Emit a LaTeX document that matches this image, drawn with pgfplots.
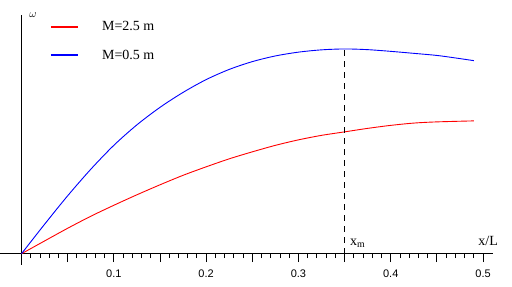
\documentclass[border=0pt]{standalone}
\usepackage{fontspec}
\setmainfont{Liberation Serif}
\newfontfamily\ticksans{Liberation Sans}
\usepackage{pgfplots}
\pgfplotsset{compat=1.18}
\begin{document}
\begin{tikzpicture}
\begin{axis}[
  scale only axis,
  width=493pt, height=250pt,
  xmin=-0.02273, xmax=0.5108,
  ymin=-11, ymax=239,
  axis lines=middle,
  axis line style={-, line width=1pt, black},
  ytick=\empty,
  xtick={0.1,0.2,0.3,0.4,0.5},
  xticklabels={0.1,0.2,0.3,0.4,0.5},
  extra x ticks={0.05,0.15,0.25,0.35,0.45},
  extra x tick labels={},
  minor xtick={0.01,0.02,0.03,0.04,0.06,0.07,0.08,0.09,0.11,0.12,0.13,0.14,0.16,0.17,0.18,0.19,0.21,0.22,0.23,0.24,0.26,0.27,0.28,0.29,0.31,0.32,0.33,0.34,0.36,0.37,0.38,0.39,0.41,0.42,0.43,0.44,0.46,0.47,0.48,0.49},
  tick align=outside,
  major tick length=8.5pt,
  minor tick length=4.5pt,
  tick style={black, line width=0.8pt},
  /pgf/number format/assume math mode=true,
  xticklabel style={font=\ticksans\fontsize{11}{13}\selectfont, anchor=north, yshift=-4.5pt},
  clip=false,
  legend style={draw=none, fill=none, at={(0.0994,0.974)}, anchor=north west,
    inner sep=0pt, row sep=17.3pt, nodes={inner sep=0pt},
    font=\fontsize{14}{16}\selectfont},
  legend image code/.code={\draw[#1, line width=2.5pt] (0pt,0pt) -- (27pt,0pt);},
  legend cell align=left,
  /tikz/every odd column/.append style={column sep=23pt},
]
\addplot[red, line width=0.9pt, smooth] coordinates {
(0,0) (0.025,12.8) (0.05,25.5) (0.075,37.5) (0.1,48.5) (0.125,59) (0.15,69)
(0.175,78.5) (0.2,87) (0.225,95) (0.25,102) (0.275,108.5) (0.3,114) (0.325,118.5)
(0.35,122) (0.375,125.5) (0.4,128.5) (0.425,130.8) (0.45,132) (0.49,133)
};
\addlegendentry{M=2.5 m}
\addplot[blue, line width=0.9pt, smooth] coordinates {
(0,0) (0.025,29.5) (0.05,58) (0.075,84.5) (0.1,108.5) (0.125,129) (0.15,146.5)
(0.175,161.5) (0.2,174.3) (0.225,184.5) (0.25,192.3) (0.275,198) (0.3,201.8)
(0.325,204.1) (0.35,205) (0.375,204.3) (0.4,202.6) (0.425,200.6) (0.45,198.5)
(0.47,196) (0.49,193.3)
};
\addlegendentry{M=0.5 m}
\addplot[black, line width=0.9pt, dash pattern=on 6pt off 5pt, forget plot] coordinates {(0.35,0) (0.35,205)};
\node[anchor=center, font=\fontsize{11}{13}\selectfont] at (axis cs:0.0124,238.5) {$\omega$};
\node[anchor=base west, inner sep=0pt, font=\fontsize{14}{16}\selectfont] at (axis cs:0.3557,8.5) {x\textsubscript{m}};
\node[anchor=base east, inner sep=0pt, font=\fontsize{14}{16}\selectfont] at (axis cs:0.5163,8.5) {x/L};
\end{axis}
\path[use as bounding box] ([yshift=-22pt]current axis.south west) rectangle ([xshift=19pt,yshift=15pt]current axis.north east);
\end{tikzpicture}
\end{document}
